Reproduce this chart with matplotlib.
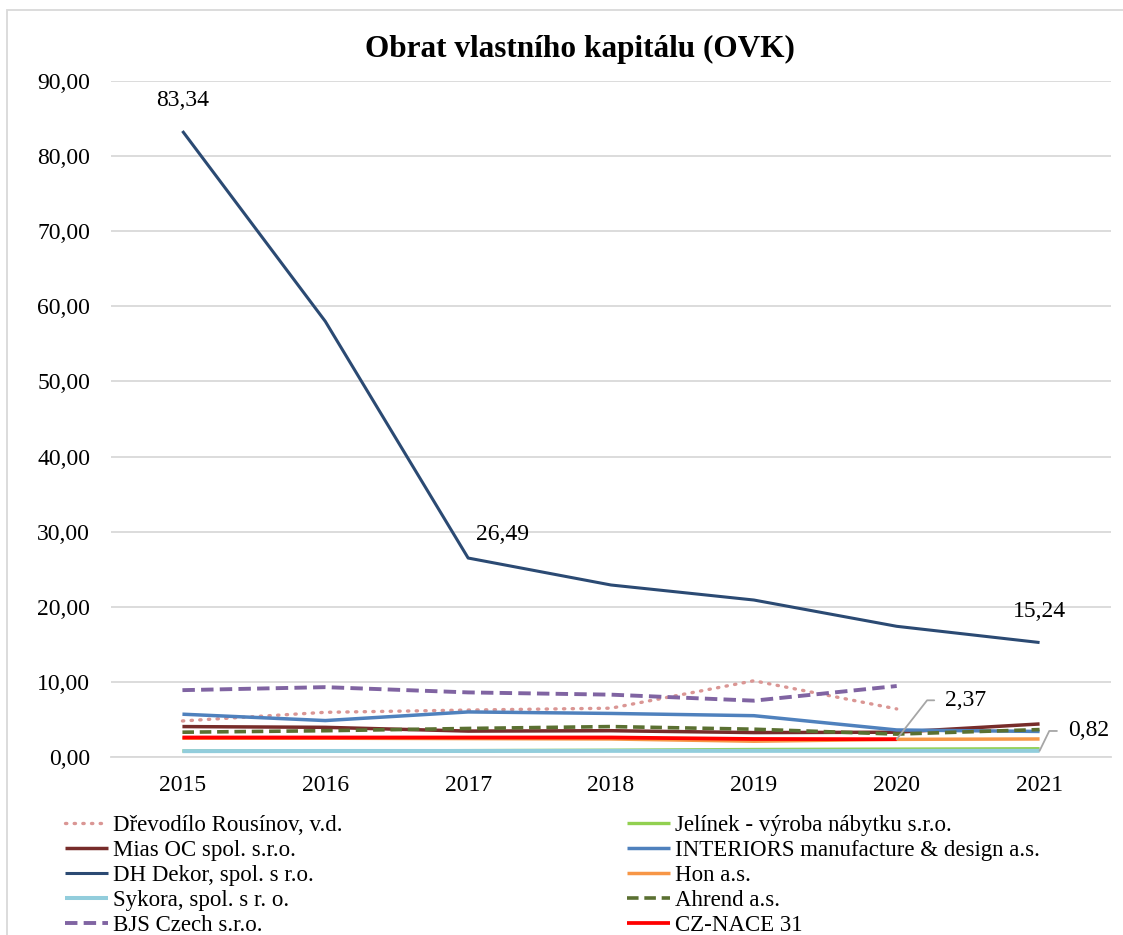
import numpy as np
import matplotlib
matplotlib.use("Agg")
import matplotlib.pyplot as plt
from matplotlib.patches import Rectangle

plt.rcParams['font.family'] = ['Liberation Serif', 'DejaVu Serif']

years = ['2015', '2016', '2017', '2018', '2019', '2020', '2021']
drevodilo = [4.8, 5.95, 6.25, 6.5, 10.15, 6.4, np.nan]
jelinek = [0.8, 0.8, 0.85, 0.9, 1.0, 1.05, 1.1]
mias = [4.05, 3.95, 3.45, 3.5, 3.25, 3.3, 4.4]
interiors = [5.7, 4.85, 6.0, 5.8, 5.5, 3.6, 3.4]
dh_dekor = [83.34, 58.0, 26.49, 22.9, 20.9, 17.4, 15.24]
hon = [2.5, 2.5, 2.45, 2.4, 2.1, 2.35, 2.4]
sykora = [0.78, 0.8, 0.8, 0.82, 0.82, 0.82, 0.82]
ahrend = [3.3, 3.5, 3.8, 4.05, 3.7, 3.05, 3.65]
bjs = [8.9, 9.3, 8.6, 8.3, 7.5, 9.45, np.nan]
cz_nace = [2.6, 2.6, 2.6, 2.6, 2.4, 2.37, np.nan]

names = ['Dřevodílo Rousínov, v.d.', 'Jelínek - výroba nábytku s.r.o.',
         'Mias OC spol. s.r.o.', 'INTERIORS manufacture & design a.s.',
         'DH Dekor, spol. s r.o.', 'Hon a.s.', 'Sykora, spol. s r. o.',
         'Ahrend a.s.', 'BJS Czech s.r.o.', 'CZ-NACE 31']
series = [drevodilo, jelinek, mias, interiors, dh_dekor, hon, sykora, ahrend, bjs, cz_nace]
colors = ['#DA9694', '#92D050', '#772C2A', '#4F81BD', '#2B4A73', '#F79646',
          '#92CDDC', '#5A7031', '#8064A2', '#FF0000']
styles = [(0, (0.4, 2.2)), '-', '-', '-', '-', '-', '-', (0, (3.2, 1.6)), (0, (3.2, 1.6)), '-']
caps = ['round', 'butt', 'butt', 'butt', 'butt', 'butt', 'butt', 'butt', 'butt', 'butt']
widths = [2.4, 2.4, 2.5, 2.5, 2.2, 2.5, 2.9, 2.6, 2.8, 2.7]

fig = plt.figure(figsize=(11.23, 9.35), dpi=100)
ax = fig.add_axes([111/1123, 1 - 757/935, 1000/1123, 676/935])
x = np.arange(len(years))

handles = []
for s, c, ls, cap, lw, n in zip(series, colors, styles, caps, widths, names):
    h, = ax.plot(x, s, color=c, linestyle=ls, lw=lw, label=n,
                 dash_capstyle=cap, solid_capstyle='butt', zorder=3)
    handles.append(h)

ax.set_xlim(-0.5, len(years) - 0.5)
ax.set_ylim(0, 90)
ax.set_yticks(np.arange(0, 91, 10))
ax.set_yticklabels([f"{v:.2f}".replace('.', ',') for v in np.arange(0, 91, 10)])
ax.set_xticks(x)
ax.set_xticklabels(years)
ax.tick_params(axis='both', length=0, labelsize=17)
ax.tick_params(axis='y', pad=15)
ax.tick_params(axis='x', pad=13)
ax.grid(axis='y', color='#D9D9D9', lw=1.3)
ax.set_axisbelow(True)
for sp in ['top', 'right', 'left']:
    ax.spines[sp].set_visible(False)
ax.spines['bottom'].set_color('#D9D9D9')
ax.spines['bottom'].set_linewidth(1.3)

# data labels
fs = 17
ax.annotate('83,34', (0, dh_dekor[0]), xytext=(0, 22), textcoords='offset points',
            ha='center', va='center', fontsize=fs)
ax.annotate('26,49', (2, dh_dekor[2]), xytext=(25, 17), textcoords='offset points',
            ha='center', va='center', fontsize=fs)
ax.annotate('15,24', (6, dh_dekor[6]), xytext=(0, 22), textcoords='offset points',
            ha='center', va='center', fontsize=fs)
ax.annotate('2,37', (5, cz_nace[5]), xytext=(35, 28), textcoords='offset points',
            ha='left', va='center', fontsize=fs,
            arrowprops=dict(arrowstyle='-', color='#A6A6A6', lw=1.3, shrinkA=6, shrinkB=0,
                            relpos=(0, 0.5),
                            connectionstyle='angle,angleA=0,angleB=52,rad=0'))
ax.annotate('0,82', (6, sykora[6]), xytext=(20.5, 14.3), textcoords='offset points',
            ha='left', va='center', fontsize=fs,
            arrowprops=dict(arrowstyle='-', color='#A6A6A6', lw=1.3, shrinkA=6, shrinkB=0,
                            relpos=(0, 0.5),
                            connectionstyle='angle,angleA=0,angleB=64,rad=0'))

fig.text(580/1123, 1 - 49/935, 'Obrat vlastního kapitálu (OVK)', ha='center', va='center',
         fontsize=22.5, fontweight='bold')

leg_kw = dict(loc='upper left', ncol=1, frameon=False, fontsize=16.5, handlelength=1.88,
              handletextpad=0.22, labelspacing=0.17, borderaxespad=0, borderpad=0)
left_idx = [0, 2, 4, 6, 8]
right_idx = [1, 3, 5, 7, 9]
leg1 = fig.legend([handles[i] for i in left_idx], [names[i] for i in left_idx],
                  bbox_to_anchor=(65/1123, 1 - 815/935), **leg_kw)
leg2 = fig.legend([handles[i] for i in right_idx], [names[i] for i in right_idx],
                  bbox_to_anchor=(627/1123, 1 - 815/935), **leg_kw)

fig.add_artist(Rectangle((7/1123, -0.1), 1.2, 1 - 10/935 + 0.1, transform=fig.transFigure,
                         fill=False, edgecolor='#D9D9D9', lw=1.3))

fig.savefig('out.png', dpi=100)
